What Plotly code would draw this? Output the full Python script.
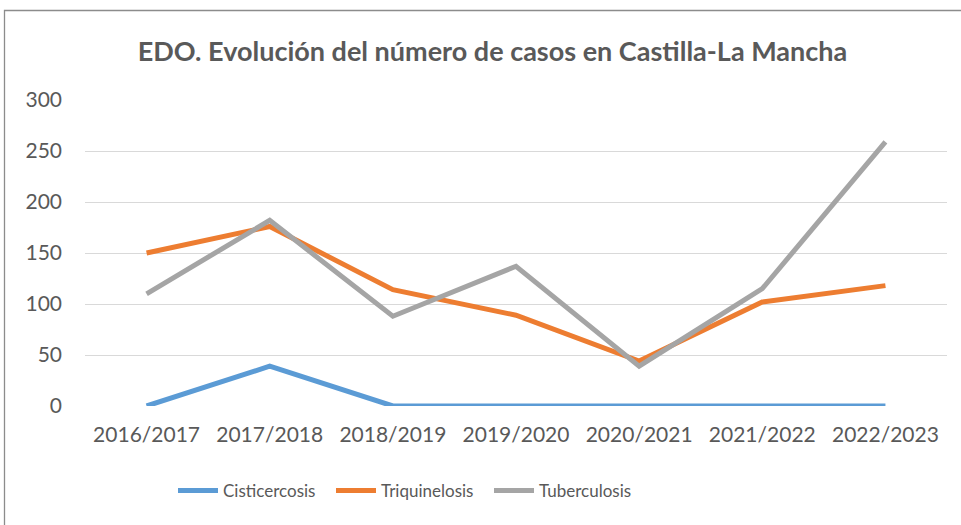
import plotly.graph_objects as go

categories = ["2016/2017", "2017/2018", "2018/2019", "2019/2020", "2020/2021", "2021/2022", "2022/2023"]
cisticercosis = [0, 39, 0, 0, 0, 0, 0]
triquinelosis = [150, 176, 114, 89, 44, 102, 118]
tuberculosis = [110, 182, 88, 137, 39, 115, 259]
y_ticks = [0, 50, 100, 150, 200, 250, 300]

W, H = 961, 525
FONT = "Lato"
TXT = "#595959"


def fx(px):
    return px / W


def fy(py):
    return 1 - py / H


fig = go.Figure()
for name, vals, col in [("Cisticercosis", cisticercosis, "#5b9bd5"),
                        ("Triquinelosis", triquinelosis, "#ed7d31"),
                        ("Tuberculosis", tuberculosis, "#a5a5a5")]:
    fig.add_trace(go.Scatter(x=categories, y=vals, mode="lines", name=name,
                             line=dict(color=col, width=5, shape="linear"),
                             cliponaxis=False))

left, right, top, bottom = 85, 947, 100, 406
fig.update_layout(
    width=W, height=H,
    margin=dict(l=0, r=0, t=0, b=0, autoexpand=False),
    paper_bgcolor="white", plot_bgcolor="white",
    font=dict(family=FONT, color=TXT, size=21),
    title=dict(text="<b>EDO. Evolución del número de casos en Castilla-La Mancha</b>",
               x=fx(492.5), xanchor="center", y=fy(52), yanchor="middle",
               font=dict(size=27, color=TXT, family=FONT)),
    xaxis=dict(domain=[fx(left), fx(right)], type="category", automargin=False,
               range=[-0.5, 6.5], showgrid=False, showline=False, ticks="",
               ticklabelstandoff=14,
               tickfont=dict(size=21, color=TXT), zeroline=False),
    yaxis=dict(domain=[fy(bottom), fy(top)], range=[0, 300], automargin=False,
               tickvals=y_ticks, showgrid=True, gridcolor="#d9d9d9", gridwidth=1,
               zeroline=False, showline=False, ticks="", ticklabelstandoff=22,
               tickfont=dict(size=21, color=TXT)),
    legend=dict(orientation="h", x=fx(173), xanchor="left", y=fy(491),
                yanchor="middle", font=dict(size=17, color=TXT),
                itemwidth=40, tracegroupgap=0, entrywidth=103),
    shapes=[dict(type="rect", xref="paper", yref="paper",
                 x0=fx(4.5), x1=1.05, y0=-0.05, y1=fy(10.5),
                 line=dict(color="#8c8c8c", width=1.3), fillcolor="rgba(0,0,0,0)")],
)
fig.write_html("out.html", config={"displayModeBar": False},
               post_script="document.body.style.margin='0';")
